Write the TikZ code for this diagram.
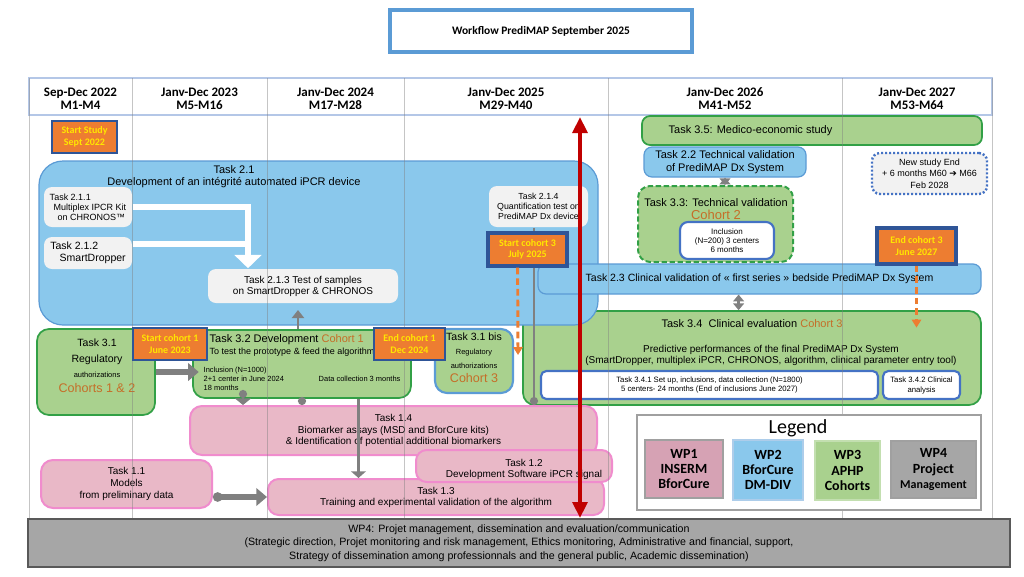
\documentclass[tikz,border=0pt]{standalone}
\usepackage{fontspec}
\setmainfont{Liberation Sans}
\newfontfamily\calibri{Carlito}
\newfontfamily\dejavu{DejaVu Sans}
\usetikzlibrary{arrows.meta,calc}

\definecolor{titleblue}{RGB}{91,155,213}
\definecolor{tabblue}{RGB}{180,199,231}
\definecolor{wpblue}{RGB}{138,200,236}
\definecolor{wpblueline}{RGB}{91,155,213}
\definecolor{wpgreen}{RGB}{169,209,142}
\definecolor{wpgreenline}{RGB}{50,160,70}
\definecolor{wppink}{RGB}{233,184,199}
\definecolor{wppinkline}{RGB}{240,140,205}
\definecolor{legpink}{RGB}{214,162,180}
\definecolor{msorange}{RGB}{237,125,49}
\definecolor{msnavy}{RGB}{47,85,151}
\definecolor{msyellow}{RGB}{255,230,0}
\definecolor{cohort}{RGB}{197,110,40}
\definecolor{boxgray}{RGB}{242,242,242}
\definecolor{inblue}{RGB}{68,114,196}
\definecolor{linkgray}{RGB}{128,128,128}
\definecolor{darkred}{RGB}{192,0,0}
\definecolor{bargray}{RGB}{166,166,166}
\definecolor{barline}{RGB}{89,89,89}
\definecolor{leggray}{RGB}{160,160,160}

\begin{document}
\begin{tikzpicture}
[x=0.75pt,y=-0.75pt,
area/.style args={#1/#2/#3/#4}{minimum width={(#3-#1)*0.75pt}, minimum height={(#4-#2)*0.75pt}, at={({(#1+#3)/2},{(#2+#4)/2})}},
taskbox/.style={draw, inner sep=0pt, align=center, rounded corners=6pt, line width=1.2pt},
bluebox/.style={taskbox, fill=wpblue, draw=wpblueline, line width=0.9pt},
greenbox/.style={taskbox, fill=wpgreen, draw=wpgreenline, line width=1.3pt},
pinkbox/.style={taskbox, fill=wppink, draw=wppinkline, line width=1.5pt},
greybox/.style={taskbox, fill=boxgray, draw=none},
whitebox/.style={taskbox, fill=white, draw=inblue, line width=1.6pt},
milestone/.style={draw=msnavy, line width=1.8pt, fill=msorange, inner sep=0pt, align=center, text=msyellow, font=\calibri\bfseries\fontsize{7.5}{8.6}\selectfont},
yearhead/.style={align=center, font=\calibri\bfseries\fontsize{9.75}{9.75}\selectfont},
colline/.style={linkgray, line width=0.5pt, opacity=0.45},
gline/.style={linkgray, line width=2.2pt},
gthick/.style={linkgray, line width=4pt, -{Triangle[width=13pt,length=8pt]}},
dashorange/.style={msorange, line width=2.2pt, dash pattern=on 5pt off 3pt, -{Triangle[width=7pt,length=6pt]}},
legbox/.style={inner sep=0pt, align=center, line width=0.8pt, font=\calibri\bfseries\fontsize{10.5}{11.5}\selectfont},
redarrow/.style={darkred, line width=3pt, {Triangle[width=11pt,length=12pt]}-{Triangle[width=11pt,length=12pt]}}]
\useasboundingbox (0,0) rectangle (1024,576);
\fill[white] (0,0) rectangle (1024,576);

% title
\node[draw=titleblue, line width=2.6pt, inner sep=0pt, area=390/10/692/52, font=\calibri\bfseries\fontsize{8.6}{10}\selectfont] (title) {Workflow PrediMAP September 2025};

% time line
\draw[tabblue, line width=0.8pt] (29,78) rectangle (992,115);
\foreach \cx/\yr/\mm [count=\i] in {80.5/Sep-Dec 2022/M1-M4, 199.5/Janv-Dec 2023/M5-M16, 335.5/Janv-Dec 2024/M17-M28, 506/Janv-Dec 2025/M29-M40, 725/Janv-Dec 2026/M41-M52, 917/Janv-Dec 2027/M53-M64}
  \node[yearhead] (year\i) at (\cx,99) {\yr\\\mm};

% right part
\node[greenbox, area=642/116/982/145] (t35) {};
\node[anchor=west, font=\fontsize{8.25}{10}\selectfont] (t35lab) at (664,131) {Task 3.5: Medico-economic study};
\node[bluebox, area=644/147/806/177, font=\fontsize{8.25}{9.75}\selectfont] (t22) {Task 2.2 Technical validation\\of PrediMAP Dx System};
\node[greenbox, dash pattern=on 4pt off 2pt, line width=1.5pt, rounded corners=9pt, area=638/186/793/262] (t33) {};
\node[font=\fontsize{8.25}{9.75}\selectfont, align=center] (t33lab) at (716,209) {Task 3.3: Technical validation\\\textcolor{cohort}{\fontsize{9.75}{10}\selectfont Cohort 2}};
\node[whitebox, area=680/222/774/259, font=\fontsize{6}{7}\selectfont] (incl33) {Inclusion\\(N=200) 3 centers\\6 months};
\node[taskbox, fill=boxgray, draw=inblue, line width=1.8pt, dash pattern=on 1.5pt off 1.5pt, area=872/153/987/194, font=\fontsize{6.75}{8.6}\selectfont] (newend) {New study End\\+ 6 months M60 {\dejavu ➔} M66\\Feb 2028};

\node[greenbox, rounded corners=9pt, area=523/311/981/405] (t34) {};
\node[font=\fontsize{8.25}{10}\selectfont] (t34lab) at (752,324) {Task 3.4\ \ Clinical evaluation \textcolor{cohort}{Cohort 3}};
\node[font=\fontsize{7.5}{8.25}\selectfont, align=center] (t34txt) at (771,355.5) {Predictive performances of the final PrediMAP Dx System\\(SmartDropper, multiplex iPCR, CHRONOS, algorithm, clinical parameter entry tool)};
\node[whitebox, rounded corners=4pt, area=541/371/878/399, font=\fontsize{5.8}{7}\selectfont] (t341) {Task 3.4.1 Set up, inclusions, data collection (N=1800)\\5 centers- 24 months (End of inclusions June 2027)};
\node[whitebox, rounded corners=4pt, area=883/371/960/399, font=\fontsize{5.8}{7.5}\selectfont] (t342) {Task 3.4.2 Clinical\\analysis};

% WP2 device
\node[bluebox, rounded corners=18pt, area=39/161/598/325] (t21) {};
\node[font=\fontsize{8.25}{9}\selectfont, align=center] (t21lab) at (234,177) {Task 2.1\\Development of an intégrité automated iPCR device};
\node[greybox, area=44/187/132/227, align=left, font=\fontsize{6.75}{7.5}\selectfont] (t211) {Task 2.1.1\\\hspace*{3pt}Multiplex IPCR Kit\\\hspace*{6pt}on CHRONOS™};
\node[greybox, area=44/237/132/269, align=left, font=\fontsize{7.9}{9}\selectfont] (t212) {Task 2.1.2\\\hspace*{7pt}SmartDropper};
\node[greybox, area=208/269/398/303, font=\fontsize{7.5}{8.25}\selectfont] (t213) {Task 2.1.3 Test of samples\\on SmartDropper \& CHRONOS};
\node[greybox, area=489/186/588/227, font=\fontsize{6.6}{7.5}\selectfont] (t214) {Task 2.1.4\\Quantification test on\\PrediMAP Dx device};
\node[bluebox, area=538/264/981/294, font=\fontsize{7.9}{9}\selectfont] (t23) {Task 2.3 Clinical validation of « first series » bedside PrediMAP Dx System};

% WP3 cohorts
\node[greenbox, rounded corners=9pt, area=37/329/155/415] (t31) {};
\node[font=\fontsize{7.9}{11.5}\selectfont, align=center] (t31lab) at (97,366) {Task 3.1\\Regulatory\\{\fontsize{5.6}{6}\selectfont authorizations}\\\textcolor{cohort}{\fontsize{9.4}{10}\selectfont Cohorts 1 \& 2}};
\node[greenbox, rounded corners=9pt, area=193/330/411/398] (t32) {};
\node[anchor=west, font=\fontsize{8.25}{10}\selectfont] (t32lab) at (205,339.5) {Task 3.2 Development \textcolor{cohort}{Cohort 1}};
\node[anchor=west, font=\fontsize{6.75}{8}\selectfont] (t32sub) at (205,352) {To test the prototype \& feed the algorithm};
\node[anchor=west, align=left, font=\fontsize{5.6}{6.75}\selectfont] (t32incl) at (199,379) {Inclusion (N=1000)\\2+1 center in June 2024\\18 months};
\node[anchor=west, font=\fontsize{5.6}{6.75}\selectfont] (t32data) at (314,379) {Data collection 3 months};
\node[greenbox, draw=wpblueline, line width=1.6pt, rounded corners=9pt, area=435/329/513/393] (t31b) {};
\node[font=\fontsize{7.9}{10.5}\selectfont, align=center] (t31blab) at (474,358) {Task 3.1 bis\\{\fontsize{5.6}{6}\selectfont Regulatory}\\{\fontsize{5.6}{6}\selectfont authorizations}\\\textcolor{cohort}{\fontsize{9.4}{10}\selectfont Cohort 3}};

% WP1 tasks
\node[pinkbox, rounded corners=9pt, area=190/406/597/455, font=\fontsize{7.5}{8.6}\selectfont] (t14) {Task 1.4\\Biomarker assays (MSD and BforCure kits)\\\& Identification of potential additional biomarkers};
\node[pinkbox, rounded corners=8pt, area=268/479/604/515, font=\fontsize{7.5}{8.25}\selectfont] (t13) {Task 1.3\\Training and experimental validation of the algorithm};
\node[pinkbox, rounded corners=8pt, area=416/450/612/482] (t12) {};
\node[font=\fontsize{7.5}{8.25}\selectfont, align=center] (t12lab) at (524,469) {Task 1.2\\Development Software iPCR signal};
\node[pinkbox, rounded corners=9pt, area=41/460/212/508, font=\fontsize{7.5}{8.9}\selectfont] (t11) {Task 1.1\\Models\\from preliminary data};

% columns
\foreach \gx in {29,132,267,404,608,842,992}
  \draw[colline] (\gx,78) -- (\gx,519);

% legend
\node[draw=leggray, fill=white, line width=0.8pt, inner sep=0pt, area=637/415/981/510] (legend) {};
\node[font=\calibri\fontsize{15}{15}\selectfont] (legtitle) at (798,428) {Legend};
\node[legbox, fill=legpink, draw=leggray, area=645/440/723/498] (lwp1) {WP1\\INSERM\\BforCure};
\node[legbox, fill=wpblue, draw=wpblueline!50, area=733/440/803/500] (lwp2) {WP2\\BforCure\\DM-DIV};
\node[legbox, fill=wpgreen, draw=wpgreen!70, area=815/441/880/500] (lwp3) {WP3\\APHP\\Cohorts};
\node[legbox, fill=bargray, draw=leggray, area=891/441/976/498] (lwp4) {WP4\\Project\\{\fontsize{9}{11}\selectfont Management}};

% white arrow in task 2.1
\coordinate (wcorner) at (248,207);
\coordinate (w2) at ($(t212.north east)!0.22!(t212.south east)$);
\draw[white, line width=4.5pt] (w2) -- (wcorner |- w2);
\draw[white, line width=4.5pt, -{Triangle[width=20pt,length=10pt]}] (t211.east) -- (wcorner) -- (wcorner |- t213.north);

% grey links
\coordinate (a2tip) at (298,310);
\coordinate (a3dot) at (243,390);
\coordinate (a5top) at ($(t214.south west)!0.455!(t214.south east)$);
\coordinate (a6top) at ($(t32.south west)!0.757!(t32.south east)$);
\coordinate (a9top) at ($(t23.south west)!0.453!(t23.south east)$);
\draw[gthick] (t31.east) -- ([xshift=5pt]t31.east -| t32.west);
\draw[gline, -{Triangle[width=9pt,length=6pt]}] (a2tip |- t32.north) -- (a2tip);
\draw[gline, {Circle[length=6pt]}-{Triangle[width=12pt,length=5pt]}] (a3dot) -- (a3dot |- t14.north);
\draw[gline, -{Circle[length=6pt]}] (t32.south) -- (t32.south |- t14.north);
\draw[gline, -{Circle[length=6pt]}] (a5top) -- (a5top |- t14.north);
\draw[gline, -{Triangle[width=11pt,length=5pt]}] (a6top) -- (a6top |- t13.north);
\draw[gthick, {Circle[length=7pt]}-{Triangle[width=13pt,length=8pt]}] (t11.east |- t13.west) -- (t13.west);
\draw[gline, {Triangle[width=8pt,length=5pt]}-{Triangle[width=8pt,length=5pt]}] (t22.south) -- (t22.south |- t33.north);
\draw[gline, {Triangle[width=8pt,length=5pt]}-{Triangle[width=8pt,length=5pt]}] (a9top) -- (a9top |- t34.north);

% milestones
\node[milestone, area=52/121/117/153] (studystart) {Start Study\\Sept 2022};
\node[milestone, area=133/328/207/360] (sc1) {Start cohort 1\\June 2023};
\node[milestone, area=374/328/445/360] (ec1) {End cohort 1\\Dec 2024};
\node[milestone, line width=2.4pt, area=488/233/567/266] (sc3) {Start cohort 3\\July 2025};
\node[milestone, line width=2.4pt, area=877/228/956/264] (ec3) {End cohort 3\\June 2027};

\coordinate (sc3foot) at ($(sc3.south west)!0.38!(sc3.south east)$);
\coordinate (sc3end) at (518,355);
\draw[dashorange] (sc3foot) -- (sc3end);
\draw[dashorange] (ec3.south) -- ++(0,62);

% WP4 bar
\node[fill=bargray, draw=barline, line width=1.2pt, inner sep=0pt, align=center, area=28/519/1010/567, font=\fontsize{8}{10}\selectfont] (wp4bar) {WP4: Projet management, dissemination and evaluation/communication\\(Strategic direction, Projet monitoring and risk management, Ethics monitoring, Administrative and financial, support,\\Strategy of dissemination among professionnals and the general public, Academic dissemination)};

% today
\coordinate (redtop) at (580,117);
\coordinate (redbot) at (580,518);
\draw[redarrow] (redtop) -- (redbot);
\end{tikzpicture}
\end{document}
